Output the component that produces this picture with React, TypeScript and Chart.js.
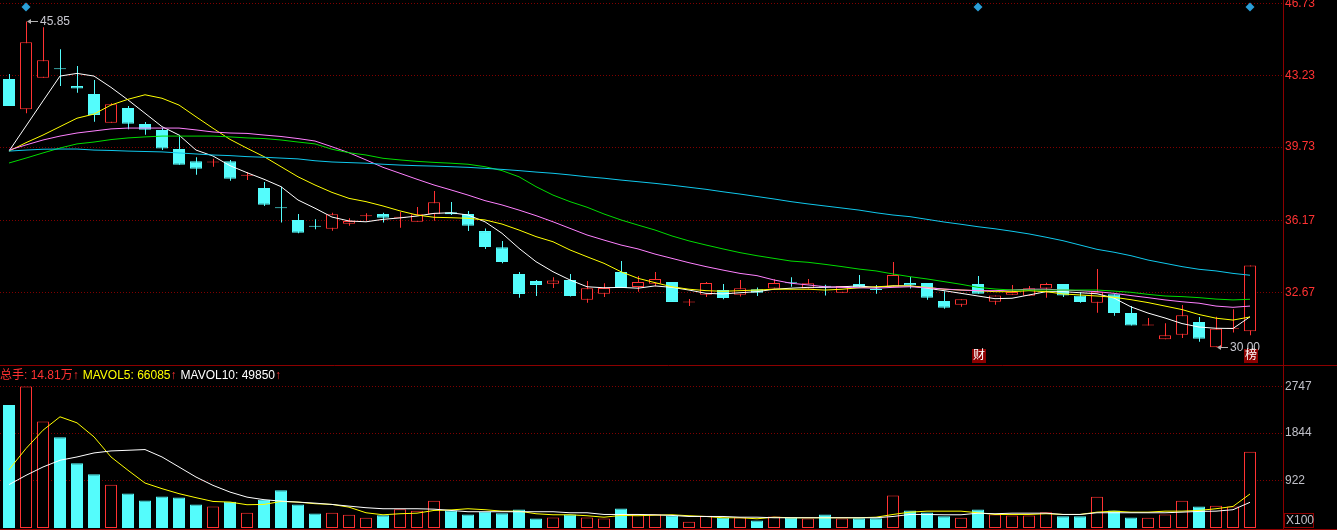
import React, { useEffect, useRef } from "react";
import { Chart, registerables } from "chart.js";

Chart.register(...registerables);

// ---- candles (daily OHLC) ----
const opens = [43.05, 41.57, 43.11, 43.54, 42.71, 42.32, 40.92, 41.64, 40.86, 40.57,
  39.64, 39.04, 38.98, 39.04, 38.34, 37.74, 36.77, 36.19, 35.87, 35.76,
  36.01, 36.37, 36.48, 36.30, 36.10, 36.47, 36.56, 36.48, 35.65, 34.86,
  33.56, 33.22, 33.09, 33.27, 32.31, 32.60, 33.66, 32.93, 33.09, 33.17,
  32.18, 32.55, 32.78, 32.55, 32.82, 32.85, 33.12, 32.85, 32.95, 32.65,
  33.07, 32.79, 32.94, 33.12, 33.12, 32.25, 32.07, 33.07, 32.21, 32.55,
  32.50, 32.85, 33.07, 32.50, 32.16, 32.57, 31.66, 31.06, 30.38, 30.61,
  31.23, 30.00, 30.90, 30.77];
const highs = [43.29, 45.85, 45.56, 44.49, 43.68, 43.00, 41.87, 41.73, 40.96, 40.68,
  40.34, 39.24, 39.17, 39.11, 38.52, 38.04, 37.81, 36.48, 36.22, 36.54,
  36.27, 36.51, 36.54, 36.58, 36.82, 37.60, 37.06, 36.63, 35.78, 35.17,
  33.66, 33.27, 33.40, 33.56, 33.22, 33.11, 34.19, 33.46, 33.66, 33.17,
  32.34, 33.17, 33.07, 33.27, 32.90, 33.30, 33.40, 33.32, 33.04, 32.98,
  33.51, 33.03, 34.14, 33.41, 33.12, 32.72, 32.33, 33.46, 32.52, 33.03,
  32.98, 33.14, 33.07, 32.67, 33.80, 32.57, 32.00, 31.42, 31.17, 32.05,
  31.47, 31.48, 31.84, 33.98];
const lows = [41.73, 41.38, 43.11, 42.71, 42.38, 40.97, 40.92, 40.60, 40.34, 39.59,
  38.88, 38.39, 38.78, 38.10, 38.13, 36.87, 36.06, 35.54, 35.74, 35.67,
  35.91, 36.15, 36.06, 35.81, 36.10, 36.15, 36.43, 35.65, 34.78, 34.08,
  32.40, 32.49, 32.88, 32.46, 32.16, 32.44, 32.88, 32.70, 32.96, 32.20,
  32.00, 32.44, 32.33, 32.46, 32.49, 32.85, 32.94, 32.85, 32.51, 32.65,
  32.91, 32.60, 32.94, 32.85, 32.31, 31.87, 31.97, 32.60, 32.07, 32.55,
  32.50, 32.41, 32.44, 32.16, 31.68, 31.53, 31.05, 31.06, 30.38, 30.45,
  30.27, 30.00, 30.72, 30.58];
const closes = [41.73, 44.83, 43.96, 43.52, 42.58, 41.30, 41.82, 40.87, 40.58, 39.66,
  38.88, 38.68, 38.98, 38.20, 38.34, 36.93, 36.76, 35.57, 35.86, 36.47,
  36.14, 36.37, 36.30, 36.30, 36.47, 37.05, 36.47, 35.91, 34.87, 34.14,
  32.59, 33.03, 33.25, 32.49, 32.87, 32.88, 32.88, 33.17, 33.32, 32.20,
  32.18, 33.12, 32.39, 32.87, 32.65, 33.12, 33.11, 33.11, 32.94, 32.98,
  32.91, 32.78, 33.51, 33.01, 32.41, 31.92, 32.33, 32.60, 32.52, 32.68,
  32.87, 33.07, 32.52, 32.20, 32.70, 31.66, 31.05, 31.06, 30.58, 31.55,
  30.41, 30.90, 30.90, 33.98];

// ---- price moving averages ----
const ma5 = [39.54, 40.76, 41.98, 43.19, 43.32, 43.19, 42.64, 42.03, 41.38, 40.73,
  40.32, 39.59, 39.30, 38.83, 38.49, 38.17, 37.81, 37.16, 36.76, 36.33,
  36.14, 36.10, 36.22, 36.29, 36.38, 36.51, 36.54, 36.43, 36.10, 35.54,
  34.81, 34.16, 33.67, 33.27, 32.94, 32.89, 32.91, 32.87, 32.98, 32.91,
  32.78, 32.62, 32.59, 32.65, 32.70, 32.82, 32.87, 32.91, 32.91, 32.94,
  32.98, 32.91, 32.98, 32.98, 32.87, 32.75, 32.62, 32.49, 32.36, 32.38,
  32.54, 32.70, 32.70, 32.65, 32.60, 32.39, 31.96, 31.66, 31.42, 31.15,
  30.98, 30.92, 30.91, 31.48];
const ma10 = [39.54, 39.95, 40.32, 40.73, 41.14, 41.34, 41.78, 42.06, 42.28, 42.11,
  41.78, 41.21, 40.65, 40.11, 39.68, 39.27, 38.78, 38.29, 37.89, 37.53,
  37.24, 37.08, 36.87, 36.63, 36.43, 36.32, 36.30, 36.27, 36.19, 35.99,
  35.70, 35.38, 35.13, 34.73, 34.40, 34.08, 33.67, 33.35, 33.14, 32.94,
  32.82, 32.75, 32.72, 32.75, 32.78, 32.82, 32.82, 32.82, 32.78, 32.82,
  32.89, 32.94, 32.98, 32.98, 32.91, 32.82, 32.78, 32.75, 32.70, 32.70,
  32.75, 32.70, 32.59, 32.54, 32.49, 32.43, 32.31, 32.17, 32.00, 31.83,
  31.59, 31.41, 31.32, 31.47];
const ma20 = [39.59, 39.84, 40.08, 40.27, 40.42, 40.52, 40.62, 40.66, 40.66, 40.66,
  40.66, 40.57, 40.47, 40.42, 40.40, 40.32, 40.25, 40.15, 40.03, 39.75,
  39.46, 39.11, 38.75, 38.46, 38.17, 37.89, 37.65, 37.40, 37.13, 36.92,
  36.67, 36.40, 36.10, 35.78, 35.46, 35.21, 34.97, 34.78, 34.53, 34.32,
  34.11, 33.92, 33.75, 33.59, 33.48, 33.27, 33.11, 33.03, 32.94, 32.91,
  32.89, 32.87, 32.91, 32.94, 32.89, 32.83, 32.78, 32.75, 32.75, 32.78,
  32.82, 32.82, 32.78, 32.75, 32.70, 32.62, 32.51, 32.41, 32.30, 32.21,
  32.14, 32.00, 31.94, 32.00];
const ma30 = [38.96, 39.20, 39.45, 39.69, 39.89, 39.98, 40.10, 40.18, 40.23, 40.27,
  40.27, 40.27, 40.27, 40.23, 40.18, 40.15, 40.08, 39.98, 39.89, 39.63,
  39.46, 39.35, 39.19, 39.11, 39.04, 38.99, 38.95, 38.90, 38.78, 38.59,
  38.29, 37.81, 37.40, 37.08, 36.81, 36.48, 36.19, 35.94, 35.70, 35.41,
  35.17, 34.97, 34.78, 34.60, 34.45, 34.32, 34.19, 34.13, 34.03, 33.92,
  33.80, 33.71, 33.56, 33.43, 33.32, 33.19, 33.06, 32.91, 32.83, 32.78,
  32.78, 32.78, 32.78, 32.78, 32.78, 32.73, 32.67, 32.57, 32.49, 32.46,
  32.41, 32.34, 32.30, 32.33];
const ma60 = [39.54, 39.59, 39.63, 39.64, 39.64, 39.59, 39.57, 39.54, 39.52, 39.50,
  39.45, 39.40, 39.35, 39.32, 39.27, 39.24, 39.20, 39.16, 39.07, 39.01,
  38.98, 38.95, 38.90, 38.86, 38.83, 38.81, 38.78, 38.75, 38.70, 38.65,
  38.59, 38.52, 38.46, 38.38, 38.29, 38.22, 38.13, 38.05, 37.97, 37.88,
  37.78, 37.68, 37.56, 37.45, 37.33, 37.21, 37.08, 36.97, 36.87, 36.77,
  36.67, 36.54, 36.43, 36.35, 36.22, 36.09, 35.98, 35.86, 35.76, 35.64,
  35.51, 35.35, 35.18, 34.97, 34.76, 34.62, 34.45, 34.24, 34.08, 33.92,
  33.79, 33.71, 33.59, 33.50];

// ---- volume (x100 lots) ----
const volumes = [2388, 2747, 2070, 1764, 1257, 1043, 842, 672, 536, 614,
  594, 458, 419, 511, 296, 550, 731, 458, 283, 296,
  257, 199, 249, 366, 335, 530, 341, 263, 316, 288,
  361, 185, 205, 263, 205, 185, 380, 263, 263, 238,
  121, 238, 199, 205, 146, 224, 199, 185, 263, 185,
  191, 191, 630, 341, 302, 230, 199, 361, 263, 244,
  244, 308, 230, 230, 608, 341, 205, 199, 263, 530,
  419, 433, 419, 1481];
const mavol5 = [1134, 1544, 1900, 2160, 2043, 1770, 1380, 1121, 873, 764,
  667, 589, 516, 503, 452, 458, 516, 503, 472, 458,
  405, 296, 257, 277, 288, 341, 351, 374, 355, 327,
  327, 277, 257, 257, 238, 210, 244, 238, 249, 257,
  238, 224, 199, 199, 179, 210, 199, 199, 199, 199,
  199, 210, 263, 308, 327, 327, 327, 296, 263, 263,
  263, 277, 263, 263, 308, 327, 308, 308, 327, 327,
  341, 374, 419, 661];
const mavol10 = [842, 1023, 1185, 1316, 1380, 1458, 1497, 1510, 1524, 1380,
  1185, 990, 828, 698, 600, 550, 522, 503, 483, 458,
  425, 394, 374, 374, 374, 366, 341, 316, 316, 316,
  316, 316, 316, 296, 296, 263, 263, 263, 257, 244,
  224, 224, 224, 210, 210, 199, 199, 199, 199, 199,
  199, 199, 224, 263, 263, 257, 257, 288, 277, 288,
  288, 288, 263, 263, 296, 296, 296, 296, 296, 308,
  322, 327, 355, 499];

// ---- axes, markers, texts ----
const priceTicks = [32.67, 36.17, 39.73, 43.23, 46.73];
const volumeTicks = [922, 1844, 2747];
const markerIdx = [1, 57, 73];
const markerPrice = 46.55;
const tagIdx = [57, 73];
const tagText = ["财", "榜"];
const totalText = "总手: 14.81万";
const mavol5Text = "MAVOL5: 66085";
const mavol10Text = "MAVOL10: 49850";

const FONT = '"Liberation Sans", Arial, "Noto Sans CJK SC", "DejaVu Sans", sans-serif';
const RED = "#ff3232";
const CYAN = "#54fcfc";
const GRID = "#800000";
const FRAME = "#8c0000";
const GREY = "#c0c0c8";
const WIDTH = 1337;
const AXIS_W = 54;
const PRICE_H = 365;
const VOL_H = 165;
const STEP = 17;
const X_MIN = -9 / STEP;
const X_MAX = X_MIN + (WIDTH - AXIS_W) / STEP;

const isUp = (i: number) => closes[i] >= opens[i];
const xy = (arr: number[]) => arr.map((y, x) => ({ x, y }));
const upColor = (i: number) => (isUp(i) ? RED : CYAN);
const fillColor = (i: number) => (isUp(i) ? "#000000" : CYAN);

const xAxis = (shift: number) => ({
  type: "linear",
  display: false,
  offset: false,
  min: X_MIN - shift / STEP,
  max: X_MAX - shift / STEP,
});

const rightAxis = (min: number, max: number, ticks: number[], color: string, fmt: (v: number) => string) => ({
  type: "linear",
  position: "right",
  min,
  max,
  beginAtZero: false,
  afterBuildTicks: (s: any) => {
    s.ticks = ticks.map((value) => ({ value }));
  },
  afterFit: (s: any) => {
    s.width = AXIS_W;
    s.paddingTop = 0;
    s.paddingBottom = 0;
  },
  grid: { color: GRID, lineWidth: 1, drawTicks: false },
  border: { display: false, dash: [1, 2] },
  ticks: {
    color,
    padding: 2,
    autoSkip: false,
    font: { size: 12, family: FONT },
    callback: (v: any) => fmt(Number(v)),
  },
});

const line = (data: number[], color: string) => ({
  type: "line",
  data: xy(data),
  borderColor: color,
  borderWidth: 1,
  pointRadius: 0,
  tension: 0,
  order: 1,
});

const frame = (top: number | null, bottom: number | null) => ({
  id: "frame",
  afterDraw(chart: any) {
    const { ctx, chartArea, height, width } = chart;
    ctx.save();
    ctx.strokeStyle = FRAME;
    ctx.lineWidth = 1;
    ctx.beginPath();
    const x = Math.round(chartArea.right) + 0.5;
    ctx.moveTo(x, 0);
    ctx.lineTo(x, height);
    if (top !== null) {
      ctx.moveTo(0, top + 0.5);
      ctx.lineTo(width, top + 0.5);
    }
    if (bottom !== null) {
      ctx.moveTo(0, bottom + 0.5);
      ctx.lineTo(width, bottom + 0.5);
    }
    ctx.stroke();
    ctx.restore();
  },
});

function drawExtreme(ctx: CanvasRenderingContext2D, px: number, py: number, label: string) {
  const y = Math.round(py) + 0.5;
  ctx.strokeStyle = "#b4b4b4";
  ctx.fillStyle = "#b4b4b4";
  ctx.lineWidth = 1;
  ctx.beginPath();
  ctx.moveTo(px + 2, y);
  ctx.lineTo(px + 12, y);
  ctx.stroke();
  ctx.beginPath();
  ctx.moveTo(px + 1, y);
  ctx.lineTo(px + 5, y - 2.5);
  ctx.lineTo(px + 5, y + 2.5);
  ctx.closePath();
  ctx.fill();
  ctx.fillStyle = "#c8c8d0";
  ctx.font = `12px ${FONT}`;
  ctx.textAlign = "left";
  ctx.textBaseline = "middle";
  ctx.fillText(label, px + 14, y);
}

const priceDecor = {
  id: "priceDecor",
  afterDatasetsDraw(chart: any) {
    const { ctx, chartArea } = chart;
    const xs = chart.scales.x;
    const ys = chart.scales.y;
    ctx.save();
    const hi = highs.indexOf(Math.max(...highs));
    const lo = lows.indexOf(Math.min(...lows));
    drawExtreme(ctx, xs.getPixelForValue(hi), ys.getPixelForValue(highs[hi]), highs[hi].toFixed(2));
    drawExtreme(ctx, xs.getPixelForValue(lo), ys.getPixelForValue(lows[lo]), lows[lo].toFixed(2));
    tagIdx.forEach((idx, k) => {
      const cx = Math.round(xs.getPixelForValue(idx)) + 1;
      const bottom = chartArea.bottom - 2;
      ctx.fillStyle = "#8c0000";
      ctx.fillRect(cx - 7, bottom - 14, 14, 14);
      ctx.fillStyle = "#ffffff";
      ctx.font = `12px ${FONT}`;
      ctx.textAlign = "center";
      ctx.textBaseline = "middle";
      ctx.fillText(tagText[k], cx, bottom - 7);
    });
    ctx.restore();
  },
};

const volumeDecor = {
  id: "volumeDecor",
  afterDraw(chart: any) {
    const { ctx, chartArea } = chart;
    ctx.save();
    ctx.font = `12px ${FONT}`;
    ctx.textAlign = "left";
    ctx.textBaseline = "middle";
    let x = 0;
    const y = 11;
    const parts: [string, string][] = [
      [totalText, RED],
      [mavol5Text, "#ffff00"],
      [mavol10Text, "#ffffff"],
    ];
    parts.forEach(([text, color]) => {
      ctx.fillStyle = color;
      ctx.fillText(text, x, y);
      x += ctx.measureText(text).width;
      ctx.fillStyle = RED;
      ctx.fillText("↑", x, y);
      x += ctx.measureText("↑").width + 4;
    });
    const bx = Math.round(chartArea.right) + 1.5;
    const by = Math.round(chartArea.bottom) - 14.5;
    ctx.strokeStyle = FRAME;
    ctx.lineWidth = 1;
    ctx.strokeRect(bx, by, 29, 14);
    ctx.fillStyle = GREY;
    ctx.fillText("X100", bx + 1.5, by + 7.5);
    ctx.restore();
  },
};

const baseOptions = {
  animation: false,
  responsive: false,
  events: [],
  plugins: { legend: { display: false }, tooltip: { enabled: false } },
};

function PriceChart() {
  const ref = useRef<HTMLCanvasElement | null>(null);
  useEffect(() => {
    const ctx = ref.current?.getContext("2d");
    if (!ctx) return;
    const idx = opens.map((_, i) => i);
    const chart = new Chart(ctx, {
      type: "bar",
      data: {
        datasets: [
          {
            type: "bar",
            xAxisID: "xw",
            data: idx.map((i) => ({ x: i, y: [lows[i], highs[i]] })),
            backgroundColor: idx.map(upColor),
            borderWidth: 0,
            barThickness: 1,
            inflateAmount: 0,
            grouped: false,
            order: 3,
          },
          {
            type: "bar",
            xAxisID: "x",
            data: idx.map((i) => ({ x: i, y: [opens[i], closes[i]] })),
            backgroundColor: idx.map(fillColor),
            borderColor: idx.map(upColor),
            borderWidth: 1,
            borderSkipped: false,
            barThickness: 12,
            minBarLength: 1,
            inflateAmount: 0,
            grouped: false,
            order: 2,
          },
          line(ma60, "#10c8ec"),
          line(ma30, "#00dc00"),
          line(ma20, "#ff80ff"),
          line(ma10, "#ffff00"),
          line(ma5, "#ffffff"),
          {
            type: "line",
            data: markerIdx.map((i) => ({ x: i, y: markerPrice })),
            showLine: false,
            pointStyle: "rectRot",
            pointRadius: 4.5,
            pointBackgroundColor: "#2a9fd8",
            pointBorderWidth: 0,
            order: 0,
          },
        ] as any,
      },
      options: {
        ...baseOptions,
        layout: { padding: 0, autoPadding: false },
        scales: {
          x: xAxis(0),
          xw: xAxis(0.5),
          y: rightAxis(46.73 - (PRICE_H - 3.3) / 20.555, 46.73 + 3.3 / 20.555, priceTicks, RED, (v) => v.toFixed(2)),
        },
      } as any,
      plugins: [frame(null, null), priceDecor],
    });
    return () => chart.destroy();
  }, []);
  return <canvas ref={ref} width={WIDTH} height={PRICE_H} style={{ display: "block" }} />;
}

function VolumeChart() {
  const ref = useRef<HTMLCanvasElement | null>(null);
  useEffect(() => {
    const ctx = ref.current?.getContext("2d");
    if (!ctx) return;
    const idx = volumes.map((_, i) => i);
    const chart = new Chart(ctx, {
      type: "bar",
      data: {
        datasets: [
          {
            type: "bar",
            data: xy(volumes),
            backgroundColor: idx.map(fillColor),
            borderColor: idx.map(upColor),
            borderWidth: 1,
            borderSkipped: false,
            barThickness: 12,
            inflateAmount: 0,
            grouped: false,
            order: 2,
          },
          line(mavol10, "#ffffff"),
          line(mavol5, "#ffff00"),
        ] as any,
      },
      options: {
        ...baseOptions,
        layout: { padding: { top: 1, bottom: 2, left: 0, right: 0 }, autoPadding: false },
        scales: {
          x: xAxis(0),
          y: rightAxis(0, 3147, volumeTicks, GREY, (v) => String(v)),
        },
      } as any,
      plugins: [frame(0, VOL_H - 1), volumeDecor],
    });
    return () => chart.destroy();
  }, []);
  return <canvas ref={ref} width={WIDTH} height={VOL_H} style={{ display: "block" }} />;
}

export default function App() {
  return (
    <div
      style={{
        position: "absolute",
        left: 0,
        top: 0,
        width: WIDTH,
        height: PRICE_H + VOL_H,
        background: "#000000",
        overflow: "hidden",
      }}
    >
      <PriceChart />
      <VolumeChart />
    </div>
  );
}
